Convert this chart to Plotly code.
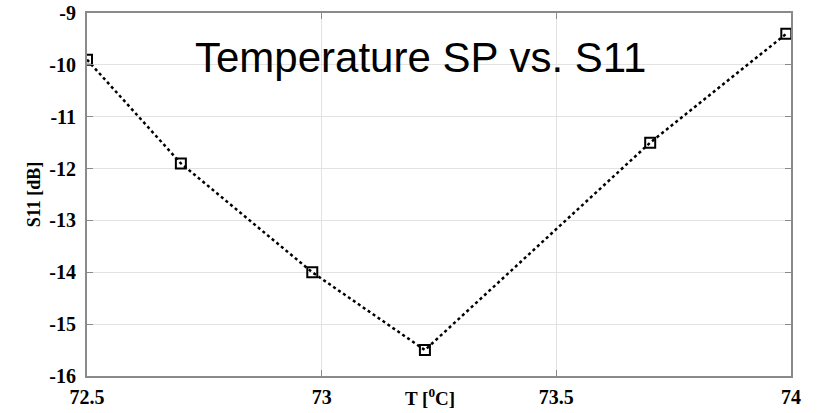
import plotly.graph_objects as go

# Temperature set point [°C] and measured S11 [dB]
temperature = [72.5, 72.7, 72.98, 73.22, 73.7, 73.99]
s11_db = [-9.9, -11.9, -14.0, -15.5, -11.5, -9.4]

x_ticks = [72.5, 73, 73.5, 74]
x_tick_text = ["72.5", "73", "73.5", "74"]
y_ticks = [-16, -15, -14, -13, -12, -11, -10, -9]
y_tick_text = ["-16", "-15", "-14", "-13", "-12", "-11", "-10", "-9"]

serif = "Liberation Serif"
tick_font = dict(family=serif, size=20, color="black", weight=700)

fig = go.Figure()
fig.add_trace(go.Scatter(
    x=temperature,
    y=s11_db,
    mode="lines+markers",
    line=dict(color="black", width=2.5, dash="dot"),
    marker=dict(symbol="square-open", size=10, color="black", line=dict(width=2, color="black")),
    showlegend=False,
))

axis_common = dict(
    showline=True,
    linecolor="#8a8a8a",
    linewidth=2,
    mirror="ticks",
    ticks="inside",
    ticklen=6,
    tickwidth=1,
    tickcolor="#8a8a8a",
    showgrid=True,
    gridcolor="#e2e2e2",
    gridwidth=1,
    zeroline=False,
    tickfont=tick_font,
    automargin=False,
)

fig.update_xaxes(
    range=[72.5, 74],
    tickvals=x_ticks,
    ticktext=x_tick_text,
    ticklabelstandoff=2,
    **axis_common,
)
fig.update_yaxes(
    range=[-16, -9],
    tickvals=y_ticks,
    ticktext=y_tick_text,
    ticklabelstandoff=5,
    title=dict(text="S11 [dB]", font=dict(family=serif, size=18, color="black", weight=700), standoff=4),
    **axis_common,
)

# Chart caption inside the plotting area
fig.add_annotation(
    x=0.474, y=0.877, xref="paper", yref="paper",
    text="Temperature SP vs. S11",
    showarrow=False,
    xanchor="center", yanchor="middle",
    font=dict(family="Liberation Sans", size=42, color="black"),
)

# Horizontal axis label
fig.add_annotation(
    x=0.487, y=0.0,
    xref="paper", yref="paper",
    yshift=-7,
    text="T [<sup>0</sup>C]",
    showarrow=False,
    xanchor="center", yanchor="top",
    font=dict(family=serif, size=19, color="black", weight=700),
)

fig.update_layout(
    width=826,
    height=413,
    margin=dict(l=87, r=35, t=13, b=37),
    paper_bgcolor="white",
    plot_bgcolor="white",
    font=dict(family=serif, color="black"),
)

fig.write_html("out.html")
